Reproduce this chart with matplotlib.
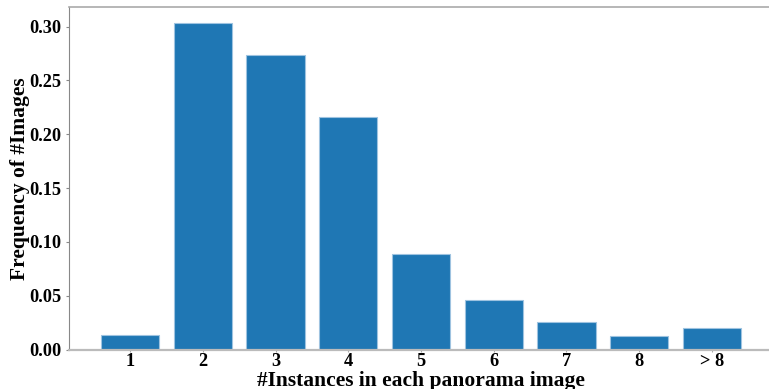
import matplotlib
matplotlib.use("Agg")
import matplotlib.pyplot as plt

categories = ["1", "2", "3", "4", "5", "6", "7", "8", "> 8"]
frequency = [0.0132, 0.303, 0.274, 0.2157, 0.0884, 0.0457, 0.0255, 0.0128, 0.0197]

plt.rcParams["font.family"] = ["Liberation Serif", "DejaVu Serif"]
plt.rcParams["font.weight"] = "bold"

fig = plt.figure(figsize=(7.69, 3.89), dpi=100)
ax = fig.add_axes([69 / 769, 1 - 349.5 / 389, (773 - 69) / 769, (349.5 - 7) / 389])

x = list(range(len(categories)))
ax.bar(x, frequency, width=0.8, color="#1f77b4", edgecolor="#9ec3e0", linewidth=0.8)

ax.set_xticks(x)
ax.set_xticklabels(categories)
ax.set_yticks([0.0, 0.05, 0.10, 0.15, 0.20, 0.25, 0.30])
ax.set_yticklabels(["0.00", "0.05", "0.10", "0.15", "0.20", "0.25", "0.30"])
ax.tick_params(axis="y", labelsize=13.2, colors="#888888", labelcolor="black", length=2.5, pad=3)
ax.tick_params(axis="x", labelsize=13.2, colors="#aaaaaa", labelcolor="black", length=1.5, pad=1.0)
for lbl in ax.get_xticklabels() + ax.get_yticklabels():
    lbl.set_fontweight("bold")

ax.set_xlabel("#Instances in each panorama image", fontsize=15.5, fontweight="bold", labelpad=1.0)
ax.set_ylabel("Frequency of #Images", fontsize=15.5, fontweight="bold", labelpad=-0.5)

ax.spines["left"].set_color("#888888")
ax.spines["top"].set_color("#aaaaaa")
ax.spines["top"].set_linewidth(1.2)
ax.spines["bottom"].set_color("#bbbbbb")
ax.spines["bottom"].set_linewidth(1.6)
ax.spines["right"].set_color("#aaaaaa")

fig.savefig("out.png", dpi=100)
